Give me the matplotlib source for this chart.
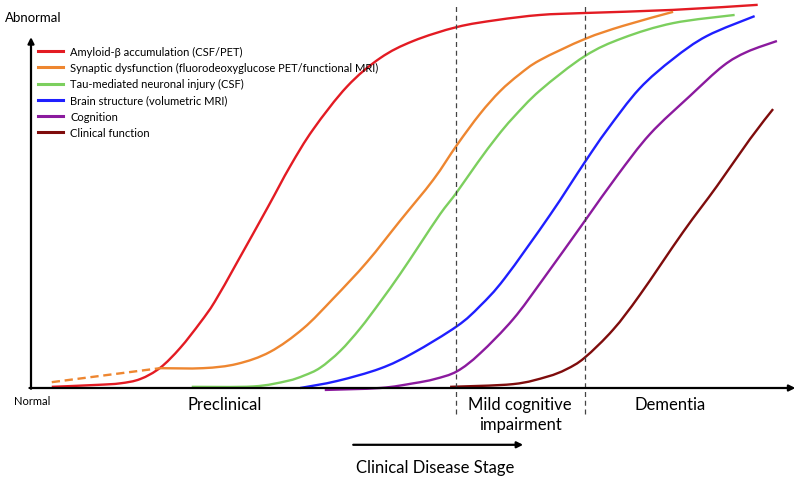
import numpy as np
import matplotlib
matplotlib.use("Agg")
import matplotlib.pyplot as plt
from matplotlib.path import Path
from matplotlib.patches import PathPatch
from matplotlib.lines import Line2D

plt.rcParams['font.family'] = ['Lato', 'DejaVu Sans']

# disease progression (0-100) vs. abnormality (0-100)
amyloid_t = [2.7, 8.6, 11.6, 14.2, 16.8, 19.4, 22.0, 23.9, 26.8, 30.8, 33.7, 36.7, 41.1, 45.4, 49.7, 55.4, 60.6, 66.2, 72.0, 83.5, 94.5]
amyloid_y = [0.3, 0.8, 1.2, 2.3, 5.2, 10.3, 16.8, 22.2, 32.3, 46.5, 57.0, 66.5, 77.5, 84.8, 89.2, 92.8, 94.6, 95.9, 96.4, 97.2, 98.5]

synaptic_dash_t = [2.7, 16.8]
synaptic_dash_y = [1.5, 5.1]
synaptic_t = [16.8, 22.4, 26.8, 31.1, 35.4, 39.3, 43.7, 48.0, 52.3, 55.4, 58.4, 61.0, 63.5, 66.2, 72.0, 77.0, 83.5]
synaptic_y = [5.1, 5.1, 6.2, 9.3, 15.3, 23.0, 32.4, 43.0, 53.5, 62.5, 70.5, 76.3, 80.6, 84.3, 89.7, 93.1, 96.7]

tau_t = [20.9, 28.9, 33.3, 35.5, 37.6, 40.2, 42.8, 45.4, 48.0, 50.6, 53.2, 55.4, 58.1, 60.6, 62.7, 66.2, 72.0, 77.0, 83.5, 91.5]
tau_y = [0.3, 0.4, 1.8, 3.2, 5.2, 9.5, 15.3, 22.1, 29.3, 37.0, 44.7, 50.4, 58.0, 64.6, 69.5, 76.5, 85.3, 90.0, 93.8, 95.9]

brain_t = [35.0, 39.8, 45.4, 49.7, 55.4, 58.4, 61.6, 67.5, 72.0, 74.9, 79.1, 83.5, 87.9, 94.1]
brain_y = [0.0, 1.8, 5.0, 9.0, 15.9, 21.1, 28.2, 44.5, 58.0, 66.3, 76.9, 84.6, 90.5, 95.6]

cognition_t = [38.2, 45.4, 49.7, 52.5, 55.4, 58.4, 62.7, 66.6, 72.0, 76.2, 80.5, 85.7, 90.0, 93.1, 97.0]
cognition_y = [-0.5, 0.0, 1.2, 2.3, 4.3, 8.9, 17.7, 28.0, 42.9, 54.5, 65.3, 75.1, 82.8, 86.4, 89.2]

clinical_t = [54.5, 62.7, 67.1, 69.6, 72.0, 75.7, 79.2, 84.8, 89.2, 93.5, 96.5]
clinical_y = [0.3, 1.0, 2.9, 4.8, 7.8, 15.0, 24.0, 40.1, 51.9, 64.0, 71.7]

labels = ['Amyloid-β accumulation (CSF/PET)',
          'Synaptic dysfunction (fluorodeoxyglucose PET/functional MRI)',
          'Tau-mediated neuronal injury (CSF)',
          'Brain structure (volumetric MRI)',
          'Cognition',
          'Clinical function']
colors = ['#e31b23', '#ee8630', '#7ccf5e', '#1f1fff', '#8b1a9e', '#7f0c0c']

stage_bounds = [55.3, 72.0]
stages = ['Preclinical', 'Mild cognitive\nimpairment', 'Dementia']
stage_x = [25.2, 63.6, 83.1]


def smooth_path(t, y):
    # Catmull-Rom through the read points, drawn as cubic Bezier segments
    p = np.column_stack([t, y])
    verts = [p[0]]
    codes = [Path.MOVETO]
    n = len(p)
    for i in range(n - 1):
        p0 = p[max(i - 1, 0)]
        p1 = p[i]
        p2 = p[i + 1]
        p3 = p[min(i + 2, n - 1)]
        c1 = p1 + (p2 - p0) / 6
        c2 = p2 - (p3 - p1) / 6
        verts += [c1, c2, p2]
        codes += [Path.CURVE4] * 3
    return Path(verts, codes)


fig = plt.figure(figsize=(8, 4.81), dpi=100)
ax = fig.add_axes([31/800, 92/481, 769/800, 389/481])
ax.set_xlim(0, 100)
ax.set_ylim(0, 100)
ax.axis('off')

lw = 1.7
series = [(amyloid_t, amyloid_y), (synaptic_t, synaptic_y), (tau_t, tau_y),
          (brain_t, brain_y), (cognition_t, cognition_y), (clinical_t, clinical_y)]
handles = []
for (t, y), c, lab in zip(series, colors, labels):
    ax.add_patch(PathPatch(smooth_path(t, y), fc='none', ec=c, lw=lw, clip_on=False))
    handles.append(Line2D([], [], color=c, lw=2.2, label=lab))
ax.plot(synaptic_dash_t, synaptic_dash_y, color=colors[1], lw=lw, ls=(0, (3.5, 2)), clip_on=False)

# stage boundaries
for b in stage_bounds:
    ax.plot([b, b], [-6.7, 98.7], color='#444444', lw=0.9, ls=(0, (4, 3)), clip_on=False)

# axes arrows
arrow = dict(arrowstyle='-|>', color='black', lw=1.6, mutation_scale=9, shrinkA=0, shrinkB=0)
ax.annotate('', xy=(0, 90.2), xytext=(0, -0.2), arrowprops=arrow, annotation_clip=False)
ax.annotate('', xy=(99.4, 0), xytext=(-0.2, 0), arrowprops=arrow, annotation_clip=False)

ax.text(-3.4, 95.4, 'Abnormal', fontsize=9.5, ha='left', va='center', clip_on=False)
ax.text(0.1, -3.3, 'Normal', fontsize=8, ha='center', va='center', clip_on=False)

for sx, s in zip(stage_x, stages):
    ax.text(sx, -2.0, s, fontsize=12, ha='center', va='top', linespacing=1.35, clip_on=False)

# clinical disease stage arrow
ax.annotate('', xy=(64.0, -14.6), xytext=(41.9, -14.6), arrowprops=arrow, annotation_clip=False)
ax.text(52.5, -20.3, 'Clinical Disease Stage', fontsize=12, ha='center', va='center', clip_on=False)

ax.legend(handles=handles, loc='upper left', bbox_to_anchor=(0.009, 0.879), frameon=False, fontsize=8,
          handlelength=2.3, handletextpad=0.6, labelspacing=0.46, borderaxespad=0, borderpad=0)

fig.savefig('out.png', dpi=100)
